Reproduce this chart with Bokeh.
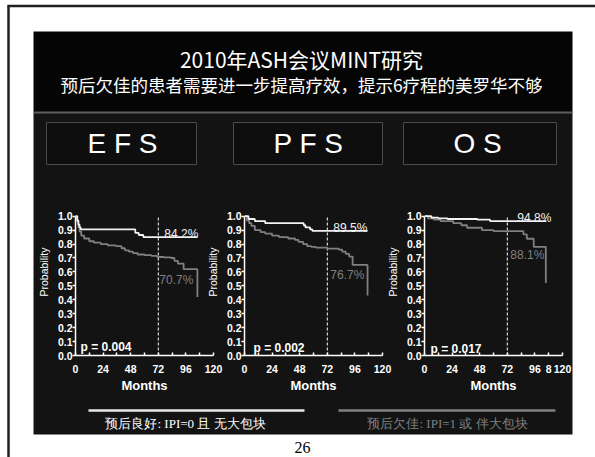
from bokeh.plotting import figure
from bokeh.models import Range1d, FixedTicker, Label, GridBox, NumeralTickFormatter
from bokeh.core.properties import value
from bokeh.embed import file_html
from bokeh.resources import INLINE

# ---------------- data ----------------
title_text = "2010年ASH会议MINT研究"
subtitle_text = "预后欠佳的患者需要进一步提高疗效，提示6疗程的美罗华不够"
panel_names = ["E F S", "P F S", "O S"]
legend_good = "预后良好: IPI=0 且 无大包块"
legend_poor = "预后欠佳: IPI=1 或 伴大包块"
page_number = "26"

month_ticks = [0, 12, 24, 36, 48, 60, 72, 84, 96, 108, 120]
prob_ticks = [0.0, 0.1, 0.2, 0.3, 0.4, 0.5, 0.6, 0.7, 0.8, 0.9, 1.0]
landmark_month = 72

efs_good_t = [0, 1.5, 2.5, 3.5, 4.5, 52, 55, 59, 106]
efs_good_s = [1.0, 0.97, 0.94, 0.92, 0.905, 0.88, 0.865, 0.85, 0.85]
efs_poor_t = [0, 1.5, 2.5, 3.5, 5, 7.5, 12, 16, 22, 28, 35, 40, 43, 46.5, 50, 54, 60, 66, 71, 77, 83, 86, 89, 94, 106]
efs_poor_s = [1.0, 0.96, 0.92, 0.89, 0.86, 0.84, 0.82, 0.81, 0.80, 0.79, 0.785, 0.77, 0.755, 0.745, 0.735, 0.725, 0.72, 0.715, 0.707, 0.705, 0.70, 0.68, 0.66, 0.62, 0.42]

pfs_good_t = [0, 3.5, 9, 18, 51.5, 53, 57, 59, 107]
pfs_good_s = [1.0, 0.98, 0.965, 0.95, 0.935, 0.92, 0.905, 0.895, 0.895]
pfs_poor_t = [0, 2, 4, 6, 9, 14, 18, 24, 30, 38, 44, 47, 51, 54.5, 58, 62, 72, 82, 85, 88, 91, 94, 107]
pfs_poor_s = [1.0, 0.97, 0.95, 0.93, 0.90, 0.885, 0.875, 0.86, 0.85, 0.84, 0.83, 0.815, 0.80, 0.785, 0.78, 0.775, 0.767, 0.76, 0.745, 0.73, 0.71, 0.65, 0.43]

os_good_t = [0, 6, 12, 20, 46, 57, 106]
os_good_s = [1.0, 0.99, 0.985, 0.98, 0.975, 0.965, 0.965]
os_poor_t = [0, 3, 8, 14, 25, 32, 37, 50, 60, 86, 89, 95, 105.5]
os_poor_s = [1.0, 0.985, 0.975, 0.964, 0.95, 0.935, 0.917, 0.90, 0.893, 0.869, 0.838, 0.78, 0.52]

good_pct = ["84.2%", "89.5%", "94.8%"]
poor_pct = ["70.7%", "76.7%", "88.1%"]
p_values = ["p = 0.004", "p = 0.002", "p = 0.017"]

# ---------------- styles / layout ----------------
W, H = 595, 457
SLIDE_L, SLIDE_R, SLIDE_T, SLIDE_B = 33, 572, 31, 434
TOP_BLACK = "#050505"
SLIDE_BG = "#131313"
WHITE = "#f2f2f2"
GREY = "#808080"
SANS = "Liberation Sans"
CJK = "Noto Sans CJK SC"

FRAME_LEFTS = [75, 244, 424]
FRAME_W = 138
Y0_PIX = 355
PX_PER_UNIT = 139.3
FRAME_TOP = 188
Y_TOP = (Y0_PIX - FRAME_TOP) / PX_PER_UNIT

good_lbl_dx = [6, 6, 10]
poor_lbl_dx = [1, 3, 3]
poor_lbl_y = [0.54, 0.58, 0.72]
p_dx = [5, 9, 6]
p_dy = [9, 8, 7]

# ---------------- background page ----------------
bg = figure(width=W, height=H, x_range=Range1d(0, W), y_range=Range1d(H, 0),
            min_border=0, output_backend="svg", toolbar_location=None,
            x_axis_type=None, y_axis_type=None,
            background_fill_color="white", border_fill_color="white",
            outline_line_color=None, frame_align=False)
bg.grid.visible = False

bg.quad(left=[SLIDE_L], right=[SLIDE_R], top=[SLIDE_T], bottom=[112],
        fill_color=TOP_BLACK, line_color=None)
bg.quad(left=[SLIDE_L], right=[SLIDE_R], top=[112], bottom=[SLIDE_B],
        fill_color=SLIDE_BG, line_color=None)
bg.segment(x0=[SLIDE_L], y0=[112], x1=[SLIDE_R], y1=[112],
           line_color="#5e5e5e", line_width=2)
# page frame lines
bg.segment(x0=[8, 7], y0=[5, 5.5], x1=[8, W], y1=[H, 5.5],
           line_color="#231f20", line_width=2.5)

# panel boxes
box_l = [46, 233, 403]
box_r = [196, 382, 556]
bg.quad(left=box_l, right=box_r, top=[122] * 3, bottom=[164] * 3,
        fill_color="#0e0e0e", line_color="#4a4a4a", line_width=1)
bg.text(x=[122, 308, 477], y=[143] * 3, text=panel_names,
        text_font=value(SANS), text_font_size="28px", text_color="white",
        text_align="center", text_baseline="middle")

bg.text(x=[301], y=[58], text=[title_text], text_font=value(CJK),
        text_font_size="21px", text_color="white",
        text_align="center", text_baseline="middle")
bg.text(x=[301], y=[84], text=[subtitle_text], text_font=value(CJK),
        text_font_size="17.5px", text_color="white",
        text_align="center", text_baseline="middle")

# legend
bg.segment(x0=[88], y0=[410], x1=[304], y1=[410], line_color="#e8e8e8", line_width=2.5)
bg.segment(x0=[338], y0=[410], x1=[555], y1=[410], line_color=GREY, line_width=2.5)
bg.text(x=[185], y=[423], text=[legend_good], text_font=value("Liberation Serif"),
        text_font_size="13px", text_color="white", text_align="center", text_baseline="middle")
bg.text(x=[447], y=[423], text=[legend_poor], text_font=value("Liberation Serif"),
        text_font_size="13px", text_color=GREY, text_align="center", text_baseline="middle")
bg.text(x=[302], y=[447], text=[page_number], text_font=value("Liberation Serif"),
        text_font_size="16px", text_color="black", text_align="center", text_baseline="middle")


# ---------------- KM panels ----------------
def km_panel(i, gt, gs, pt, ps, overrides):
    left = FRAME_LEFTS[i]
    p = figure(width=W, height=H, x_range=Range1d(0, 120), y_range=Range1d(0, Y_TOP),
               min_border_left=left, min_border_right=W - left - FRAME_W,
               min_border_top=FRAME_TOP, min_border_bottom=H - Y0_PIX,
               output_backend="svg", toolbar_location=None,
               background_fill_color=None, border_fill_color=None,
               outline_line_color=None, frame_align=False)
    p.grid.visible = False

    xa = p.xaxis[0]
    ya = p.yaxis[0]
    xa.ticker = FixedTicker(ticks=month_ticks)
    xa.major_label_overrides = overrides
    xa.bounds = (0, 120)
    ya.ticker = FixedTicker(ticks=prob_ticks)
    ya.formatter = NumeralTickFormatter(format="0.0")
    ya.bounds = (0, 1)
    for ax in (xa, ya):
        ax.axis_line_color = "white"
        ax.axis_line_width = 1.5
        ax.major_tick_line_color = "white"
        ax.major_tick_line_width = 1.5
        ax.minor_tick_line_color = None
        ax.major_label_text_color = "white"
        ax.major_label_text_font = SANS
        ax.major_label_text_font_size = "10.5px"
        ax.major_label_text_font_style = "bold"
        ax.axis_label_text_color = "white"
        ax.axis_label_text_font = SANS
    xa.major_tick_in = 3
    xa.major_tick_out = 0
    xa.major_label_standoff = 9
    xa.axis_label = "Months"
    xa.axis_label_text_font_size = "13px"
    xa.axis_label_text_font_style = "bold"
    xa.axis_label_standoff = 2
    ya.major_tick_in = 0
    ya.major_tick_out = 3
    ya.major_label_standoff = 0
    ya.axis_label = "Probability"
    ya.axis_label_text_font_size = "10.5px"
    ya.axis_label_text_font_style = "normal"
    ya.axis_label_standoff = 5

    p.segment(x0=[landmark_month], y0=[0], x1=[landmark_month], y1=[1.0],
              line_color="white", line_width=1, line_dash="3 2")
    p.step(pt, ps, mode="after", line_color=GREY, line_width=1.8)
    p.step(gt, gs, mode="after", line_color=WHITE, line_width=1.8)

    p.add_layout(Label(x=landmark_month, y=gs[-1], x_offset=good_lbl_dx[i], y_offset=3,
                       text=good_pct[i], text_color=WHITE, text_font=SANS,
                       text_font_size="12px", text_baseline="alphabetic"))
    p.add_layout(Label(x=landmark_month, y=poor_lbl_y[i], x_offset=poor_lbl_dx[i],
                       text=poor_pct[i], text_color=GREY, text_font=SANS,
                       text_font_size="12px", text_baseline="middle"))
    p.add_layout(Label(x=0, y=0, x_offset=p_dx[i], y_offset=p_dy[i],
                       text=p_values[i], text_color="white", text_font=SANS,
                       text_font_size="12px", text_font_style="bold",
                       text_baseline="middle"))
    return p


ov_std = {12: "", 36: "", 60: "", 84: "", 108: ""}
ov_os = {12: "", 36: "", 60: "", 84: "", 108: "8"}

p1 = km_panel(0, efs_good_t, efs_good_s, efs_poor_t, efs_poor_s, ov_std)
p2 = km_panel(1, pfs_good_t, pfs_good_s, pfs_poor_t, pfs_poor_s, ov_std)
p3 = km_panel(2, os_good_t, os_good_s, os_poor_t, os_poor_s, ov_os)

page = GridBox(children=[(bg, 0, 0), (p1, 0, 0), (p2, 0, 0), (p3, 0, 0)])

open("out.html", "w").write(file_html(page, INLINE))
